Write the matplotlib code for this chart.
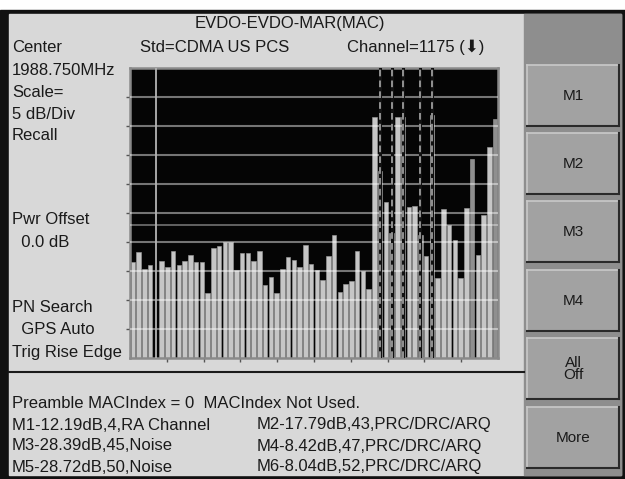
import matplotlib
matplotlib.use("Agg")
import matplotlib.pyplot as plt
from matplotlib.patches import Rectangle
import numpy as np

plt.rcParams['font.family'] = ['Liberation Sans', 'DejaVu Sans']

# MAC index power, dB (index 4 is hidden under the M1 marker)
mac_db = [-33.40, -31.81, -34.57, -34.05, np.nan, -33.22, -34.34, -31.55,
          -34.05, -33.22, -32.24, -33.40, -33.40, -38.71, -31.09, -30.69,
          -30.00, -30.00, -34.83, -31.84, -31.98, -33.22, -31.55, -37.36,
          -35.95, -38.71, -34.71, -32.53, -33.05, -34.26, -30.55, -33.71,
          -34.91, -36.55, -32.41, -28.83, -38.57, -37.24, -36.67, -31.52,
          -34.97, -38.02, -8.53, -17.79, -23.05, -28.39, -8.53, -8.42,
          -23.91, -23.79, -28.72, -32.41, -8.04, -36.26, -24.36, -27.02,
          -29.71, -36.26, -24.22, -15.72, -32.24, -25.34, -13.57, -8.84]
threshold_db = -27.0

marker_names = ['M1', 'M2', 'M3', 'M4', 'M5', 'M6']
marker_db = [-12.19, -17.79, -28.39, -8.42, -28.72, -8.04]
marker_idx = [4, 43, 45, 47, 50, 52]
marker_kind = ['RA Channel', 'PRC/DRC/ARQ', 'Noise', 'PRC/DRC/ARQ', 'Noise', 'PRC/DRC/ARQ']

left_labels = ['Center', '1988.750MHz', 'Scale=', '5 dB/Div', 'Recall',
               'Pwr Offset', '  0.0 dB', 'PN Search', '  GPS Auto', 'Trig Rise Edge']
left_rows = [47, 70, 92, 114, 136, 219, 242, 308, 330, 353]
buttons = ['M1', 'M2', 'M3', 'M4', 'All\nOff', 'More']
button_tops = [65, 133, 201, 270, 338, 407]

W, H = 625, 479
fig = plt.figure(figsize=(W / 100, H / 100), dpi=100, facecolor='white')

# screen frame, drawn in pixel coordinates
bg = fig.add_axes([0, 0, 1, 1])
bg.set_xlim(0, W)
bg.set_ylim(H, 0)
bg.axis('off')
bg.add_patch(Rectangle((0, 10), W, H - 10, color='#111111'))
bg.add_patch(Rectangle((9, 14), 612, 461, color='#d8d8d8'))
bg.add_patch(Rectangle((524, 14), 97, 461, color='#8e8e8e'))
bg.plot([9, 524], [372, 372], color='#1a1a1a', lw=1.5)

txt = dict(color='#1a1a1a', fontsize=12, va='center')
bg.text(290, 23, 'EVDO-EVDO-MAR(MAC)', ha='center', **txt)
bg.text(140, 47, 'Std=CDMA US PCS', ha='left', **txt)
bg.text(347, 47, 'Channel=1175 (⬇)', ha='left', **txt)
for lab, y in zip(left_labels, left_rows):
    bg.text(12, y, lab, ha='left', **txt)

bg.text(12, 403, 'Preamble MACIndex = 0  MACIndex Not Used.', ha='left', **txt)
for k, (nm, db, ix, kd) in enumerate(zip(marker_names, marker_db, marker_idx, marker_kind)):
    x = 12 if k % 2 == 0 else 257
    y = 425 + (k // 2) * 21
    bg.text(x, y, f'{nm}{db:.2f}dB,{ix},{kd}', ha='left', **txt)

# soft-key buttons
for lab, top in zip(buttons, button_tops):
    bg.add_patch(Rectangle((527, top), 92, 61, color='#a2a2a2'))
    bg.plot([527, 619], [top, top], color='#c9c9c9', lw=1.2)
    bg.plot([527, 527], [top, top + 61], color='#c9c9c9', lw=1.2)
    bg.plot([527, 619], [top + 61, top + 61], color='#2a2a2a', lw=1.5)
    bg.plot([619, 619], [top, top + 61], color='#2a2a2a', lw=1.5)
    bg.text(573, top + 31, lab, ha='center', va='center', fontsize=11,
            color='#1a1a1a', linespacing=0.9)

# bar display
ax = fig.add_axes([130 / W, (H - 358) / H, 368 / W, 290 / H])
ax.set_facecolor('#050505')
idx = np.arange(len(mac_db))
vals = np.array(mac_db)
dim = {43, 45, 47, 50, 59, 63}
colors = ['#8f8f8f' if i in dim else '#c6c6c6' for i in idx]
ax.bar(idx, vals + 50, bottom=-50, width=0.78, color=colors,
       edgecolor='#a0a0a0', linewidth=0.4, zorder=2)
ax.set_xlim(-0.5, 63.5)
ax.set_ylim(-50, 0)

for yv in np.arange(-45, 0, 5):
    ax.axhline(yv, color='white', alpha=0.45, lw=1.5, zorder=3)
ax.axhline(threshold_db, color='white', alpha=0.4, lw=1.3, zorder=3)

for nm, ix in zip(marker_names, marker_idx):
    if nm == 'M1':
        ax.axvline(ix, color='#b4b4b4', lw=1.3, zorder=4)
    else:
        ax.axvline(ix, color='#111111', lw=2.2, zorder=4)
        ax.axvline(ix, color='#a8a8a8', lw=1.2, ls=(0, (4, 2.5)), zorder=5)

ax.set_yticks(np.arange(-45, 0, 5))
ax.set_xticks(-0.5 + 6.4 * np.arange(1, 10))
ax.tick_params(direction='out', length=3, width=1, color='#555555',
               labelleft=False, labelbottom=False)
for s in ax.spines.values():
    s.set_color('#8a8a8a')
    s.set_linewidth(1.8)

fig.savefig('out.png', dpi=100, facecolor='white')
